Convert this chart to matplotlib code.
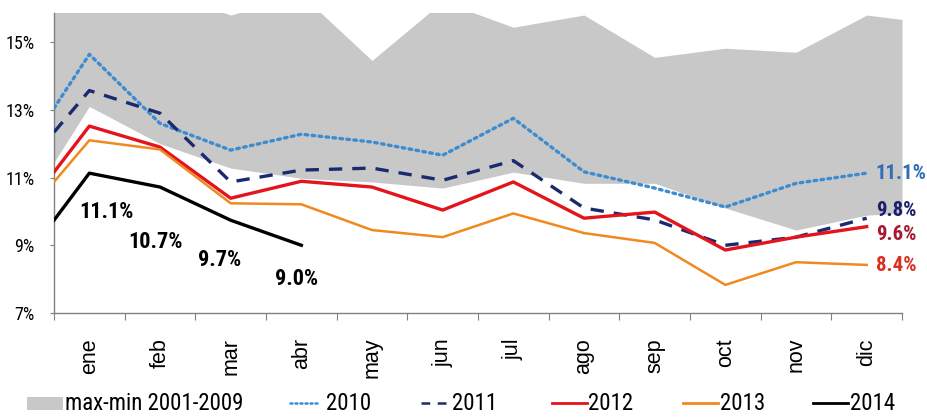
import matplotlib
matplotlib.use('Agg')
import matplotlib.pyplot as plt
import numpy as np
from matplotlib import font_manager

# datos: primer valor = diciembre del año anterior
meses = ['ene', 'feb', 'mar', 'abr', 'may', 'jun', 'jul', 'ago', 'sep', 'oct', 'nov', 'dic']
s2010 = [13.05, 14.64, 12.6, 11.81, 12.28, 12.05, 11.66, 12.75, 11.17, 10.69, 10.13, 10.83, 11.13]
s2011 = [12.34, 13.57, 12.9, 10.87, 11.22, 11.28, 10.92, 11.5, 10.1, 9.75, 9.0, 9.24, 9.8]
s2012 = [11.16, 12.52, 11.9, 10.39, 10.89, 10.72, 10.04, 10.87, 9.8, 9.98, 8.86, 9.24, 9.55]
s2013 = [10.87, 12.1, 11.83, 10.24, 10.21, 9.45, 9.24, 9.94, 9.36, 9.07, 7.83, 8.5, 8.42]
s2014 = [9.74, 11.13, 10.72, 9.74, 9.0]
etiq_2014 = ['11.1%', '10.7%', '9.7%', '9.0%']
# banda max-min 2001-2009 (borde izq, meses, borde der)
band_max = [16.3, 17.0, 16.5, 15.8, 16.4, 14.46, 16.2, 15.44, 15.8, 14.55, 14.82, 14.7, 15.8, 15.67]
band_min = [11.45, 13.1, 12.0, 11.28, 10.98, 10.87, 10.69, 11.16, 10.83, 10.83, 10.1, 9.45, 9.89, 9.95]
fin_labels = ['11.1%', '9.8%', '9.6%', '8.4%']
leg_labels = ['max-min 2001-2009', '2010', '2011', '2012', '2013', '2014']

fl = font_manager.fontManager.ttflist


def wnum(w):
    return w if isinstance(w, (int, float)) else font_manager.weight_dict.get(w, 400)


def pick(cands, bold=False):
    for c in cands:
        ws = [wnum(f.weight) for f in fl if f.name == c]
        if ws and (not bold or max(ws) >= 600):
            return c
    return 'Liberation Sans'


narrow = pick(['Roboto Condensed', 'PT Sans Narrow', 'Asap Condensed', 'Archivo Narrow'])
narrow_b = pick(['Roboto Condensed', 'PT Sans Narrow', 'Asap Condensed'], bold=True)
arial = pick(['Arimo', 'Liberation Sans'])

x_line = np.r_[0, np.arange(12) + 0.5]
x_band = np.r_[0, np.arange(12) + 0.5, 12]

fig = plt.figure(figsize=(9.28, 4.19), dpi=100)
ax = fig.add_axes([54 / 928, 1 - 313 / 419, 848 / 928, 300 / 419])

ax.fill_between(x_band, band_min, band_max, color='#c8c8c8', lw=0, zorder=1)

c10, c11, c12, c13 = '#3d8bd0', '#1b2a6e', '#e3141b', '#f08a1e'
ax.plot(x_line, s2010, color=c10, lw=2.4, ls=(0, (0.8, 1.3)), dash_capstyle='round', zorder=3)
ax.plot(x_line, s2011, color=c11, lw=2.4, ls=(0, (4, 3)), zorder=3)
ax.plot(x_line, s2012, color=c12, lw=2.4, zorder=4)
ax.plot(x_line, s2013, color=c13, lw=1.8, zorder=4)
ax.plot(x_line[:len(s2014)], s2014, color='black', lw=2.4, zorder=5)

# etiquetas 2014
offs = [(0.24, -1.15), (-0.06, -1.62), (-0.15, -1.18), (-0.07, -1.0)]
for i, (lab, (dx, dy)) in enumerate(zip(etiq_2014, offs)):
    ax.text(x_line[i + 1] + dx, s2014[i + 1] + dy, lab, ha='center', va='center',
            fontsize=16, fontweight='bold', family=[narrow_b, 'DejaVu Sans'], zorder=6)

# etiquetas finales
fin_cols = ['#2f6eb5', '#1a1f6b', '#a8182e', '#d9301f']
fin_y = [11.12, 10.04, 9.33, 8.39]
for lab, yv, c in zip(fin_labels, fin_y, fin_cols):
    ax.text(11.63, yv, lab, ha='left', va='center', color=c, fontsize=15,
            fontweight='bold', family=[narrow_b, 'DejaVu Sans'], clip_on=False, zorder=6)

ax.set_xlim(0, 12)
ax.set_ylim(7, 15.86)
ax.set_yticks([7, 9, 11, 13, 15])
ax.set_yticklabels(['7%', '9%', '11%', '13%', '15%'], family=[narrow, 'DejaVu Sans'], fontsize=13)
ax.set_xticks(np.arange(13))
ax.set_xticklabels([])
ax.set_xticks(np.arange(12) + 0.5, minor=True)
ax.set_xticklabels(meses, minor=True, rotation=90, fontsize=15.5, family=[arial, 'DejaVu Sans'])
ax.tick_params(axis='x', which='major', length=5, color='#808080', direction='out')
ax.tick_params(axis='x', which='minor', length=0, pad=18)
ax.tick_params(axis='y', length=3, color='#808080', pad=11)
for s in ['top', 'right']:
    ax.spines[s].set_visible(False)
for s in ['left', 'bottom']:
    ax.spines[s].set_color('#808080')
    ax.spines[s].set_linewidth(1.0)

# leyenda dibujada a mano en pixeles de la figura
lax = fig.add_axes([0, 0, 1, 1])
lax.set_xlim(0, 928)
lax.set_ylim(419, 0)
lax.axis('off')
lax.patch.set_visible(False)
ly = 403
lax.fill_between([27, 63], 397, 410, color='#c8c8c8', lw=0)
lax.plot([290, 318], [ly, ly], color=c10, lw=1.8, ls=(0, (0.8, 1.2)), dash_capstyle='round')
lax.plot([421, 446], [ly, ly], color=c11, lw=1.8, ls=(0, (3.5, 3)))
lax.plot([552, 587], [ly, ly], color=c12, lw=2)
lax.plot([683, 718], [ly, ly], color=c13, lw=2)
lax.plot([813, 848], [ly, ly], color='black', lw=2)
for lab, xt in zip(leg_labels, [65, 326, 452, 588, 720, 850]):
    lax.text(xt, ly, lab, ha='left', va='center', fontsize=16.5, family=[narrow, 'DejaVu Sans'])

fig.savefig('out.png', dpi=100)
